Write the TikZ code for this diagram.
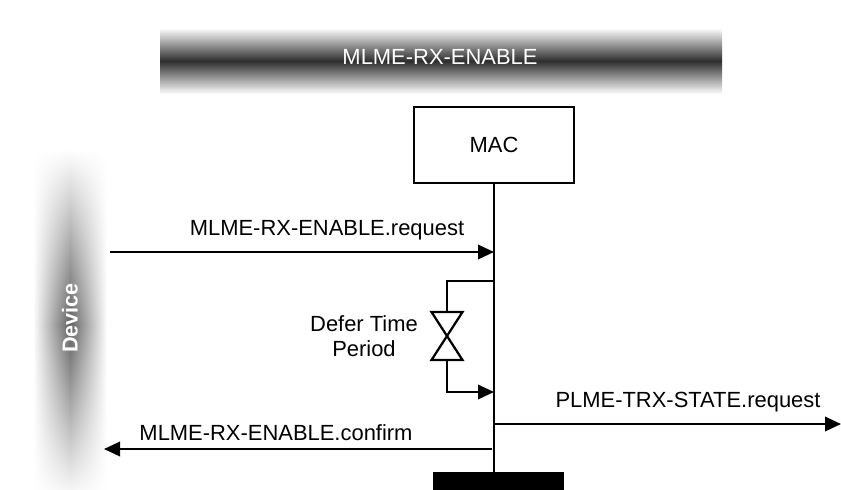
\documentclass[tikz,border=0pt]{standalone}
\usepackage{fontspec}
\setmainfont{Liberation Sans}
\usetikzlibrary{arrows.meta,positioning,fadings}

\tikzfading[name=fade ends, top color=transparent!100, bottom color=transparent!100, middle color=transparent!0]

\begin{document}
\begin{tikzpicture}[
  x=0.025cm, y=-0.025cm,
  font=\fontsize{15.6pt}{18pt}\selectfont,
  line/.style={draw=black, line width=1.6pt},
  msg/.style={line, -{Triangle[length=4mm, width=3.6mm]}},
  label/.style={anchor=base, inner sep=0pt},
  macbox/.style={draw, line width=1.2pt, minimum width=4.0cm, minimum height=1.9cm},
  whitetext/.style={text=white, inner sep=0pt}
]
\useasboundingbox (0,0) rectangle (841,489);

% banner and device bar
\shade[top color=white, bottom color=white, middle color=black!82] (160,28) rectangle (722,94);
\node[whitetext] (title) at (440,57) {MLME-RX-ENABLE};
\shade[left color=white, right color=white, middle color=black!62, path fading=fade ends]
  (33,150) rectangle (107,500);
\node[whitetext, rotate=90, font=\fontsize{15.4pt}{18pt}\selectfont\bfseries] (device) at (70,318) {Device};

% MAC and its lifeline
\node[macbox] (mac) at (494,145) {MAC};
\node[fill=black, minimum width=3.275cm, minimum height=0.45cm, inner sep=0pt] (phy) at (498.5,481) {};
\draw[line] (mac.south) -- (mac.south |- phy.north);

% points on the lifeline
\coordinate (reqend) at (494,252);
\coordinate (loopstart) at (494,281);
\coordinate (loopend) at (494,392);
\coordinate (trxstart) at (494,424);
\coordinate (cnfstart) at (492,449);
\coordinate (reqsrc) at (110,252);
\coordinate (cnfdst) at (104,449);
\coordinate (trxdst) at (841,424);

% request
\draw[msg] (reqsrc) -- (reqend);
\node[label] (reqlbl) at (327,235) {MLME-RX-ENABLE.request};

% defer time period
\coordinate (hgtop) at (447,312);
\coordinate (hgbot) at (447,360);
\draw[line] (loopstart) -| (hgtop);
\draw[line, line join=miter] (hgtop) ++(-15.5,0) -- ++(31,0) -- ++(-31,48) -- ++(31,0) -- cycle;
\draw[msg] (hgbot) |- (loopend);
\node[align=center, inner sep=0pt] (defer) at (364,336) {Defer Time\\Period};

% state request and confirm
\draw[msg] (trxstart) -- (trxdst);
\node[label] (trxlbl) at (688,407) {PLME-TRX-STATE.request};
\draw[msg] (cnfstart) -- (cnfdst);
\node[label] (cnflbl) at (276,440) {MLME-RX-ENABLE.confirm};

\end{tikzpicture}
\end{document}
